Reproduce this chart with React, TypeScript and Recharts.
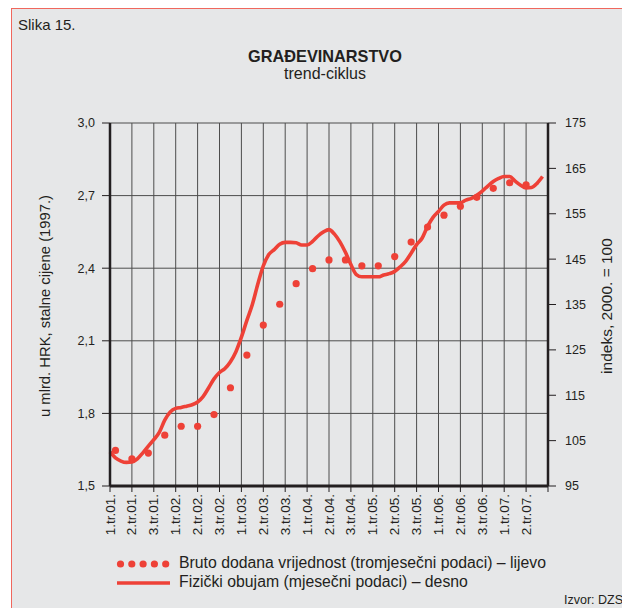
import React from 'react';
import { ComposedChart, Line, XAxis, YAxis, CartesianGrid } from 'recharts';

const tickLabels = [
  '1.tr.01.', '2.tr.01.', '3.tr.01.', '1.tr.02.', '2.tr.02.', '3.tr.02.', '1.tr.03.', '2.tr.03.', '3.tr.03.', '1.tr.04.',
  '2.tr.04.', '3.tr.04.', '1.tr.05.', '2.tr.05.', '3.tr.05.', '1.tr.06.', '2.tr.06.', '3.tr.06.', '1.tr.07.', '2.tr.07.',
];

// Fizički obujam (mjesečni podaci) – desno, siječanj 2001. – kolovoz 2007.
const fizickiObujam = [
  102.5, 101.2, 100.5, 100.2, 100.3, 101.0, 102.3, 103.8, 105.2, 106.8,
  109.5, 111.3, 112.1, 112.3, 112.6, 112.9, 113.5, 114.7, 116.6, 118.6,
  120.0, 120.9, 122.4, 124.6, 127.8, 131.5, 135.0, 139.5, 143.5, 146.0,
  147.1, 148.3, 148.7, 148.7, 148.6, 148.1, 148.1, 148.9, 150.1, 151.0,
  151.5, 150.5, 148.8, 146.5, 143.8, 141.6, 141.1, 141.1, 141.1, 141.1,
  141.5, 141.8, 142.3, 143.3, 144.5, 146.3, 148.2, 149.6, 152.2, 154.2,
  155.5, 156.9, 157.4, 157.4, 157.4, 158.0, 158.4, 159.1, 160.0, 161.1,
  162.1, 162.8, 163.2, 163.2, 162.2, 161.3, 160.7, 160.8, 161.7, 163.2,
];

// Bruto dodana vrijednost (tromjesečni podaci) – lijevo, 1.tr.2001. – 2.tr.2007.
const brutoDodana = [
  1.647, 1.612, 1.636, 1.710, 1.747, 1.747, 1.795, 1.906, 2.041, 2.165,
  2.251, 2.336, 2.398, 2.434, 2.434, 2.410, 2.410, 2.448, 2.508, 2.570,
  2.619, 2.656, 2.693, 2.730, 2.753, 2.744,
];

const leftTicks = [1.5, 1.8, 2.1, 2.4, 2.7, 3.0];
const rightTicks = [95, 105, 115, 125, 135, 145, 155, 165, 175];
const xTicks = Array.from({ length: 21 }, (_, i) => i * 4);

const data = fizickiObujam.map((v, i) => ({
  m: i,
  fiz: v,
  bdv: i % 3 === 1 && brutoDodana[(i - 1) / 3] !== undefined ? brutoDodana[(i - 1) / 3] : null,
}));

const RED = '#ee4137';
const TXT = '#231f20';
const FONT = '"Liberation Sans", Arial, Helvetica, sans-serif';

const XTick = (props: any) => {
  const { x, y, payload } = props;
  const label = tickLabels[Math.round(payload.value / 4)] || '';
  return (
    <text
      x={x}
      y={y}
      transform={`rotate(-90 ${x} ${y})`}
      textAnchor="end"
      dominantBaseline="central"
      fontSize={13.5}
      fontFamily={FONT}
      fill={TXT}
    >
      {label}
    </text>
  );
};

const DotMark = (props: any) => {
  const { cx, cy, value, index } = props;
  if (value === null || value === undefined || cx == null || cy == null) return <g key={`d${index}`} />;
  return <circle key={`d${index}`} cx={cx} cy={cy} r={3.6} fill={RED} stroke="none" />;
};

export default function App() {
  return (
    <div style={{ position: 'fixed', left: 0, top: 0, width: 622, height: 608, background: '#ffffff', overflow: 'hidden', fontFamily: FONT, color: TXT }}>
      <div style={{ position: 'absolute', left: 11, top: 8, width: 700, height: 700, background: '#e6e7e8', border: '1px solid #f0675d' }} />
      <div style={{ position: 'absolute', left: 18, top: 16, fontSize: 15 }}>Slika 15.</div>
      <div style={{ position: 'absolute', left: 175, width: 300, top: 47, textAlign: 'center', fontSize: 16.3, fontWeight: 'bold' }}>GRAĐEVINARSTVO</div>
      <div style={{ position: 'absolute', left: 175, width: 300, top: 65, textAlign: 'center', fontSize: 16 }}>trend-ciklus</div>

      <div style={{ position: 'absolute', left: 0, top: 0 }}>
        <ComposedChart width={622} height={608} data={data} margin={{ top: 123, right: 24, bottom: 62, left: 60 }}>
          <CartesianGrid yAxisId="left" stroke="#4d4d4d" strokeWidth={1} />
          <XAxis
            dataKey="m"
            type="number"
            domain={[0, 80]}
            ticks={xTicks}
            interval={0}
            height={60}
            tick={<XTick />}
            tickSize={6}
            tickMargin={2}
            axisLine={{ stroke: TXT, strokeWidth: 3 }}
            tickLine={{ stroke: TXT, strokeWidth: 1 }}
          />
          <YAxis
            yAxisId="left"
            orientation="left"
            domain={[1.5, 3.0]}
            ticks={leftTicks}
            interval={0}
            width={50}
            tickFormatter={(v: number) => v.toFixed(1).replace('.', ',')}
            tick={{ fontSize: 12.5, fill: TXT, fontFamily: FONT }}
            tickSize={8}
            tickMargin={7}
            axisLine={{ stroke: TXT, strokeWidth: 2.5 }}
            tickLine={{ stroke: TXT, strokeWidth: 1 }}
          />
          <YAxis
            yAxisId="right"
            orientation="right"
            domain={[95, 175]}
            ticks={rightTicks}
            interval={0}
            width={50}
            tick={{ fontSize: 12.5, fill: TXT, fontFamily: FONT, textAnchor: 'start' }}
            tickSize={8}
            tickMargin={9}
            axisLine={{ stroke: TXT, strokeWidth: 2.5 }}
            tickLine={{ stroke: TXT, strokeWidth: 1 }}
          />
          <Line
            yAxisId="right"
            dataKey="fiz"
            type="monotone"
            stroke={RED}
            strokeWidth={3.6}
            dot={false}
            activeDot={false}
            isAnimationActive={false}
          />
          <Line
            yAxisId="left"
            dataKey="bdv"
            stroke="none"
            dot={<DotMark />}
            activeDot={false}
            isAnimationActive={false}
            connectNulls={false}
          />
        </ComposedChart>
      </div>

      <div style={{ position: 'absolute', left: 45 - 150, top: 306 - 10, width: 300, height: 20, lineHeight: '20px', textAlign: 'center', fontSize: 14.8, transform: 'rotate(-90deg)', whiteSpace: 'nowrap' }}>
        u mlrd. HRK, stalne cijene (1997.)
      </div>
      <div style={{ position: 'absolute', left: 607 - 150, top: 306 - 10, width: 300, height: 20, lineHeight: '20px', textAlign: 'center', fontSize: 15.5, transform: 'rotate(-90deg)', whiteSpace: 'nowrap' }}>
        indeks, 2000. = 100
      </div>

      <svg style={{ position: 'absolute', left: 0, top: 0 }} width={622} height={608}>
        {[0, 1, 2, 3, 4].map((i) => (
          <circle key={i} cx={120.5 + i * 11.3} cy={564} r={3.6} fill={RED} />
        ))}
        <line x1={117} x2={170} y1={583} y2={583} stroke={RED} strokeWidth={3.5} />
      </svg>
      <div style={{ position: 'absolute', left: 179, top: 554, fontSize: 15.8, whiteSpace: 'nowrap' }}>
        Bruto dodana vrijednost (tromjesečni podaci) – lijevo
      </div>
      <div style={{ position: 'absolute', left: 179, top: 573, fontSize: 15.8, whiteSpace: 'nowrap' }}>
        Fizički obujam (mjesečni podaci) – desno
      </div>
      <div style={{ position: 'absolute', left: 564, top: 593, fontSize: 12.5, whiteSpace: 'nowrap' }}>Izvor: DZS</div>
    </div>
  );
}
